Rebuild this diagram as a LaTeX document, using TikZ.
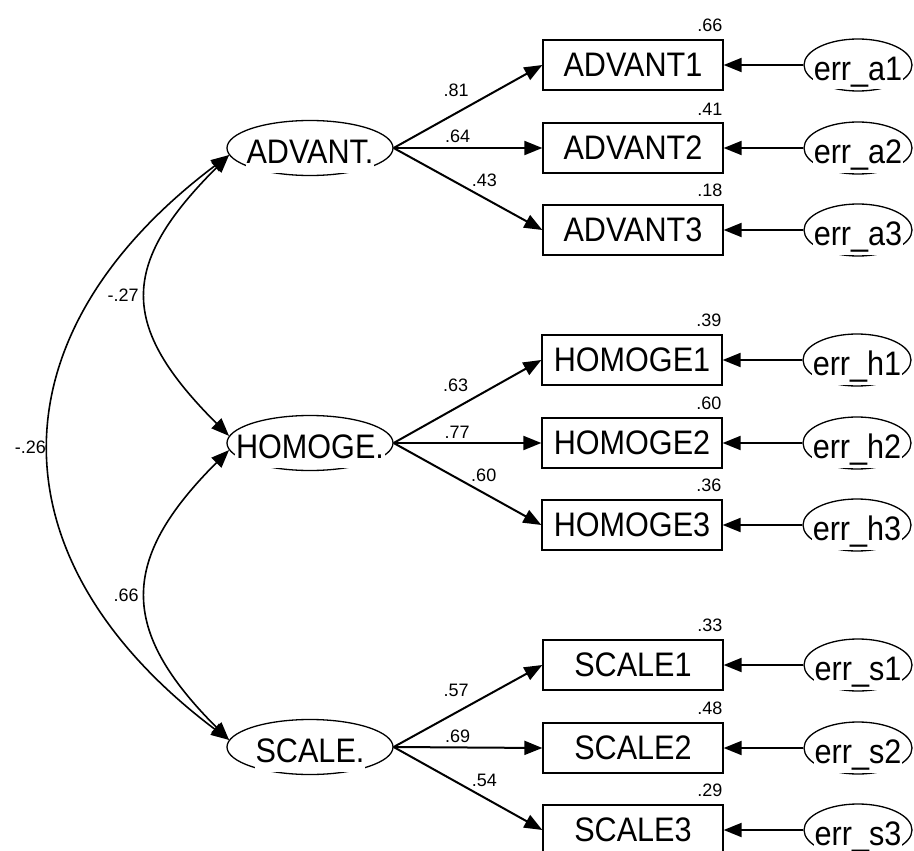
\documentclass[tikz,border=0pt]{standalone}
\usepackage{fontspec}
\setmainfont{Liberation Sans}
\newfontfamily\labfamily{Liberation Sans}[FakeStretch=0.9]
\usetikzlibrary{shapes.geometric,arrows.meta}
\newcommand\labfont{\labfamily\fontsize{34}{34}\selectfont}
\newcommand\numfont{\fontsize{18}{18}\selectfont}

\begin{document}
\begin{tikzpicture}[x=1pt, y=-1pt,
	latent/.style={ellipse, draw, line width=1.3pt, minimum width=166pt, minimum height=55pt, inner sep=0pt},
	errvar/.style={ellipse, draw, line width=1.3pt, minimum width=108pt, minimum height=52pt, inner sep=0pt},
	vartext/.style={fill=white, inner sep=1pt, text height=25pt, text depth=8pt, font=\labfont},
	obs/.style={rectangle, draw, line width=1.3pt, minimum width=180pt, minimum height=50pt, inner sep=0pt, font=\labfont},
	coef/.style={inner sep=1pt, font=\numfont},
	load/.style={-{Triangle[length=18pt,width=14pt]}, line width=2pt},
	cov/.style={{Triangle[length=18pt,width=14pt]}-{Triangle[length=18pt,width=14pt]}, line width=1.6pt}]
	\useasboundingbox (0,0) rectangle (914,851);
	
	% factors
	\node[latent] (adv) at (310,148) {};
	\node[latent] (hom) at (310,443) {};
	\node[latent] (sca) at (310,747) {};
	\node[vartext] (advt) at ([yshift=-7pt]adv.center) {ADVANT.};
	\node[vartext] (homt) at ([yshift=-7pt]hom.center) {HOMOGE.};
	\node[vartext] (scat) at ([yshift=-7pt]sca.center) {SCALE.};
	
	% indicators
	\node[obs] (a1) at (633,65)  {ADVANT1};
	\node[obs] (a2) at (633,148) {ADVANT2};
	\node[obs] (a3) at (633,230) {ADVANT3};
	\node[obs] (h1) at (632,360) {HOMOGE1};
	\node[obs] (h2) at (632,443) {HOMOGE2};
	\node[obs] (h3) at (632,525) {HOMOGE3};
	\node[obs] (s1) at (633,665) {SCALE1};
	\node[obs] (s2) at (633,748) {SCALE2};
	\node[obs] (s3) at (633,830) {SCALE3};
	
	% squared multiple correlations
	\node[coef, anchor=south east] (ra1) at ([yshift=6pt]a1.north east) {.66};
	\node[coef, anchor=south east] (ra2) at ([yshift=6pt]a2.north east) {.41};
	\node[coef, anchor=south east] (ra3) at ([yshift=6pt]a3.north east) {.18};
	\node[coef, anchor=south east] (rh1) at ([yshift=6pt]h1.north east) {.39};
	\node[coef, anchor=south east] (rh2) at ([yshift=6pt]h2.north east) {.60};
	\node[coef, anchor=south east] (rh3) at ([yshift=6pt]h3.north east) {.36};
	\node[coef, anchor=south east] (rs1) at ([yshift=6pt]s1.north east) {.33};
	\node[coef, anchor=south east] (rs2) at ([yshift=6pt]s2.north east) {.48};
	\node[coef, anchor=south east] (rs3) at ([yshift=6pt]s3.north east) {.29};
	
	% error terms
	\node[errvar] (ea1) at (858,65)  {};
	\node[errvar] (ea2) at (858,148) {};
	\node[errvar] (ea3) at (858,230) {};
	\node[errvar] (eh1) at (857,360) {};
	\node[errvar] (eh2) at (857,443) {};
	\node[errvar] (eh3) at (857,525) {};
	\node[errvar] (es1) at (858,665) {};
	\node[errvar] (es2) at (858,748) {};
	\node[errvar] (es3) at (858,830) {};
	\node[vartext] (ea1t) at ([yshift=-7pt]ea1.center) {err\_a1};
	\node[vartext] (ea2t) at ([yshift=-7pt]ea2.center) {err\_a2};
	\node[vartext] (ea3t) at ([yshift=-7pt]ea3.center) {err\_a3};
	\node[vartext] (eh1t) at ([yshift=-7pt]eh1.center) {err\_h1};
	\node[vartext] (eh2t) at ([yshift=-7pt]eh2.center) {err\_h2};
	\node[vartext] (eh3t) at ([yshift=-7pt]eh3.center) {err\_h3};
	\node[vartext] (es1t) at ([yshift=-7pt]es1.center) {err\_s1};
	\node[vartext] (es2t) at ([yshift=-7pt]es2.center) {err\_s2};
	\node[vartext] (es3t) at ([yshift=-7pt]es3.center) {err\_s3};
	
	% loadings
	\draw[load] (adv.east) -- node[coef, pos=.42, above=14pt] {.81} (a1.west);
	\draw[load] (adv.east) -- node[coef, pos=.43, above=3pt]  {.64} (a2.west);
	\draw[load] (adv.east) -- node[coef, pos=.61, above=9pt]  {.43} (a3.west);
	\draw[load] (hom.east) -- node[coef, pos=.42, above=14pt] {.63} (h1.west);
	\draw[load] (hom.east) -- node[coef, pos=.43, above=3pt]  {.77} (h2.west);
	\draw[load] (hom.east) -- node[coef, pos=.61, above=9pt]  {.60} (h3.west);
	\draw[load] (sca.east) -- node[coef, pos=.42, above=14pt] {.57} (s1.west);
	\draw[load] (sca.east) -- node[coef, pos=.43, above=3pt]  {.69} (s2.west);
	\draw[load] (sca.east) -- node[coef, pos=.61, above=9pt]  {.54} (s3.west);
	
	\draw[load] (ea1.west) -- (a1.east);
	\draw[load] (ea2.west) -- (a2.east);
	\draw[load] (ea3.west) -- (a3.east);
	\draw[load] (eh1.west) -- (h1.east);
	\draw[load] (eh2.west) -- (h2.east);
	\draw[load] (eh3.west) -- (h3.east);
	\draw[load] (es1.west) -- (s1.east);
	\draw[load] (es2.west) -- (s2.east);
	\draw[load] (es3.west) -- (s3.east);
	
	% correlations between factors
	\draw[cov] (adv.185) .. controls +(-110,110) and +(-110,-110) .. node[coef, left=6pt] {-.27} (hom.175);
	\draw[cov] (adv.185) .. controls +(-239,180) and +(-239,-180) .. node[coef, left=2pt] {-.26} (sca.175);
	\draw[cov] (hom.185) .. controls +(-110,110) and +(-110,-110) .. node[coef, left=6pt] {.66} (sca.175);
\end{tikzpicture}
\end{document}
